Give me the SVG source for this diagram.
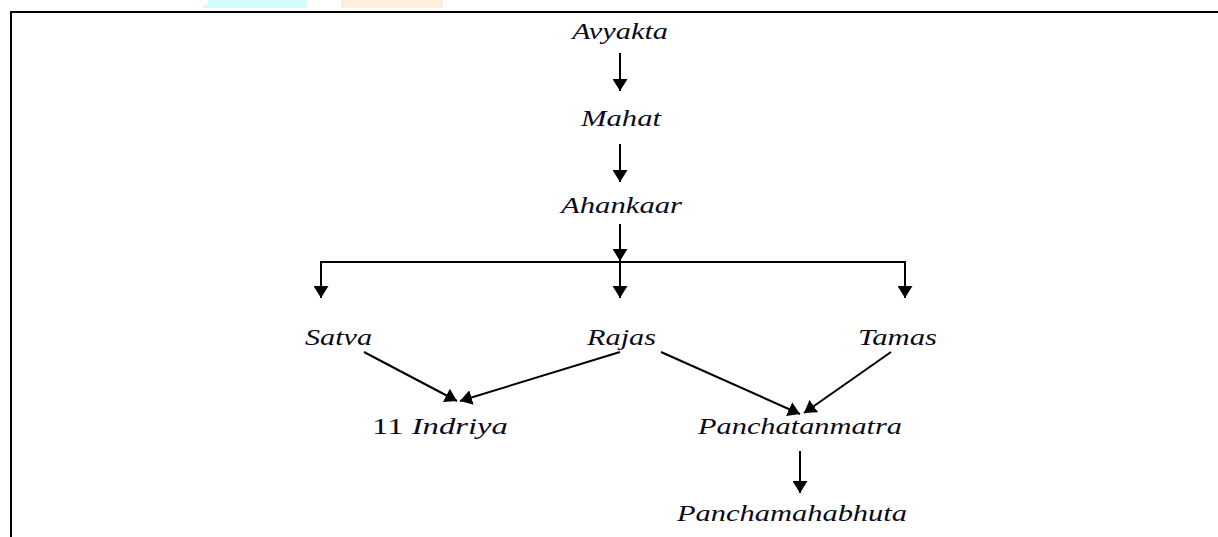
<svg xmlns="http://www.w3.org/2000/svg" width="1218" height="537" viewBox="0 0 1218 537">
<style>
.t{font-family:"Liberation Serif","Times New Roman",serif;font-size:24px;font-style:italic;fill:#0a0a1a}
.u{font-style:normal}
.c{stroke:#000;stroke-width:2;fill:none}
.b{stroke:#000;stroke-width:2;fill:none}
</style>
<defs>
<marker id="ah" viewBox="0 0 12 15" refX="12" refY="7.5" markerWidth="12" markerHeight="15" markerUnits="userSpaceOnUse" orient="auto">
<path d="M0,0 L12,7.5 L0,15 Z" fill="#000"/>
</marker>
</defs>
<rect width="1218" height="537" fill="#fff"/>
<g id="bg">
<rect x="208" y="0" width="99" height="6" fill="#d4fcfc"/>
<rect x="203" y="5" width="104" height="3" fill="#d4fcfc"/>
<rect x="341" y="0" width="102" height="8" fill="#feeedd"/>
<path class="b" d="M10,12 H1218 M11,12 V537"/>
</g>
<g id="connectors">
<line class="c" x1="620" y1="53" x2="620" y2="91" marker-end="url(#ah)"/>
<line class="c" x1="620" y1="144" x2="620" y2="182" marker-end="url(#ah)"/>
<line class="c" x1="620" y1="224" x2="620" y2="261" marker-end="url(#ah)"/>
<path class="c" d="M321,298 V262 H905 V298"/>
<line class="c" x1="321" y1="270" x2="321" y2="298" marker-end="url(#ah)"/>
<line class="c" x1="620" y1="262" x2="620" y2="298" marker-end="url(#ah)"/>
<line class="c" x1="905" y1="270" x2="905" y2="298" marker-end="url(#ah)"/>
<line class="c" x1="364" y1="352" x2="457" y2="401" marker-end="url(#ah)"/>
<line class="c" x1="620" y1="352" x2="460" y2="401" marker-end="url(#ah)"/>
<line class="c" x1="661" y1="352" x2="800" y2="414" marker-end="url(#ah)"/>
<line class="c" x1="891" y1="352" x2="804" y2="413" marker-end="url(#ah)"/>
<line class="c" x1="800" y1="451" x2="800" y2="493" marker-end="url(#ah)"/>
</g>
<g id="avyakta"><text class="t" x="572" y="39" textLength="96" lengthAdjust="spacingAndGlyphs">Avyakta</text></g>
<g id="mahat"><text class="t" x="581" y="126" textLength="80" lengthAdjust="spacingAndGlyphs">Mahat</text></g>
<g id="ahankaar"><text class="t" x="561" y="213" textLength="121" lengthAdjust="spacingAndGlyphs">Ahankaar</text></g>
<g id="satva"><text class="t" x="305" y="345" textLength="67" lengthAdjust="spacingAndGlyphs">Satva</text></g>
<g id="rajas"><text class="t" x="587" y="345" textLength="69" lengthAdjust="spacingAndGlyphs">Rajas</text></g>
<g id="tamas"><text class="t" x="858" y="345" textLength="79" lengthAdjust="spacingAndGlyphs">Tamas</text></g>
<g id="indriya"><text class="t" x="372" y="434" textLength="136" lengthAdjust="spacingAndGlyphs"><tspan class="u">11 </tspan>Indriya</text></g>
<g id="panchatanmatra"><text class="t" x="698" y="434" textLength="204" lengthAdjust="spacingAndGlyphs">Panchatanmatra</text></g>
<g id="panchamahabhuta"><text class="t" x="677" y="521" textLength="230" lengthAdjust="spacingAndGlyphs">Panchamahabhuta</text></g>
</svg>
